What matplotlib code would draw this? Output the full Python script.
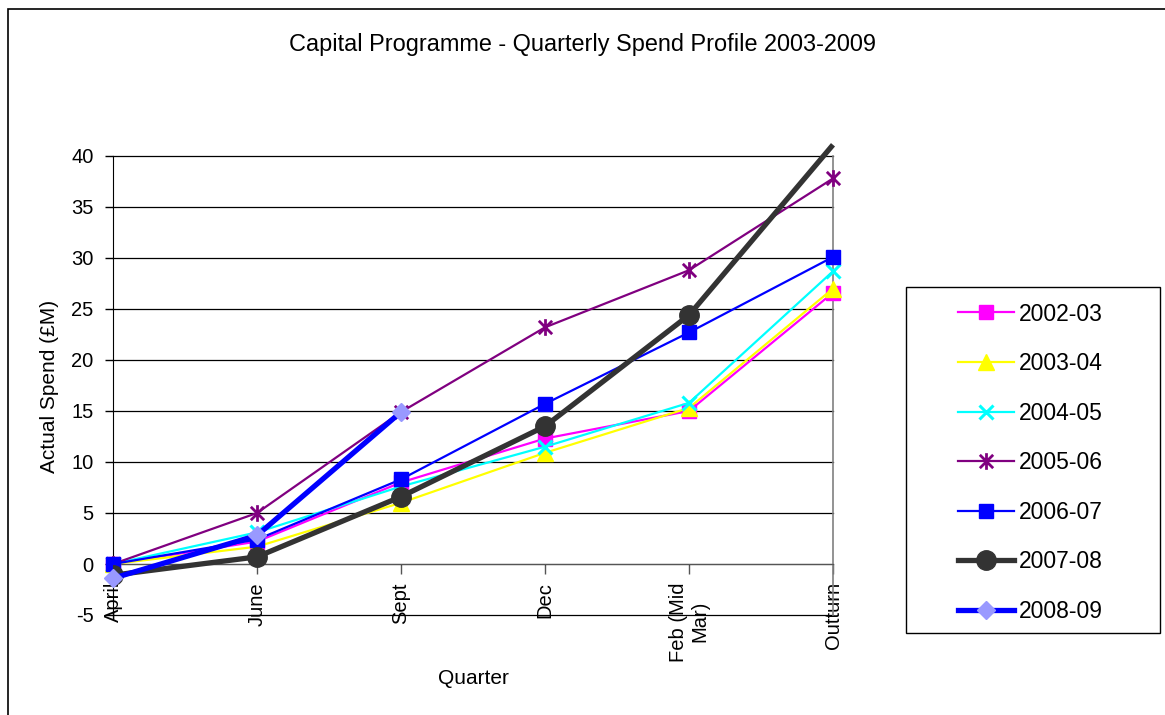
import matplotlib
matplotlib.use("Agg")
import matplotlib.pyplot as plt
from matplotlib.lines import Line2D
from matplotlib.patches import Rectangle
from matplotlib.path import Path

plt.rcParams["font.family"] = ["Liberation Sans", "DejaVu Sans"]

# ---- data -----------------------------------------------------------
quarters = ["April", "June", "Sept", "Dec", "Feb (Mid\nMar)", "Outturn"]
series_names = ["2002-03", "2003-04", "2004-05", "2005-06", "2006-07", "2007-08", "2008-09"]

spend_2002_03 = [0.0, 2.2, 8.0, 12.3, 15.0, 26.6]
spend_2003_04 = [0.0, 1.7, 6.0, 10.9, 15.3, 27.0]
spend_2004_05 = [0.0, 3.1, 7.6, 11.5, 15.8, 28.7]
spend_2005_06 = [0.0, 5.0, 14.9, 23.2, 28.8, 37.8]
spend_2006_07 = [0.0, 2.4, 8.3, 15.7, 22.7, 30.1]
spend_2007_08 = [-1.1, 0.7, 6.6, 13.5, 24.4, 41.1]
spend_2008_09 = [-1.4, 2.8, 14.9]

y_ticks = list(range(-5, 41, 5))

# ---- styles ---------------------------------------------------------
star = Path([(0, -1), (0, 1), (-0.8, -0.8), (0.8, 0.8), (-0.8, 0.8), (0.8, -0.8)],
            [Path.MOVETO, Path.LINETO] * 3)

styles = [
    dict(color="#FF00FF", lw=1.6, marker="s", ms=9.5, mfc="#FF00FF", mec="#FF00FF", mew=1),
    dict(color="#FFFF00", lw=1.6, marker="^", ms=11, mfc="#FFFF00", mec="#FFFF00", mew=1),
    dict(color="#00FFFF", lw=1.6, marker="x", ms=10, mfc="#00FFFF", mec="#00FFFF", mew=2.2),
    dict(color="#800080", lw=1.6, marker=star, ms=12, mfc="#800080", mec="#800080", mew=2.0),
    dict(color="#0000FF", lw=1.6, marker="s", ms=10, mfc="#0000FF", mec="#0000FF", mew=1),
    dict(color="#333333", lw=3.8, marker="o", ms=14, mfc="#333333", mec="#333333", mew=1),
    dict(color="#0000FF", lw=3.8, marker="D", ms=9.5, mfc="#9999FF", mec="#9999FF", mew=1),
]
all_series = [spend_2002_03, spend_2003_04, spend_2004_05, spend_2005_06,
              spend_2006_07, spend_2007_08, spend_2008_09]

W, H = 1165, 715
fig = plt.figure(figsize=(W / 100, H / 100), dpi=100)

# chart border
fig.patches.append(Rectangle((8 / W, -0.1), 1.2, 1 - 9 / H + 0.1, transform=fig.transFigure,
                             fill=False, edgecolor="black", lw=1.2))

ax = fig.add_axes([113 / W, 1 - 615 / H, 720 / W, 459 / H])
ax.set_xlim(0, 5)
ax.set_ylim(-5, 40)

for i, (vals, st) in enumerate(zip(all_series, styles)):
    xs = list(range(len(vals)))
    if max(vals) > 40:
        # line runs past the top of the value axis; markers stay inside
        ax.plot(xs, vals, color=st["color"], lw=st["lw"], clip_on=False,
                solid_capstyle="butt", zorder=3 + i)
        inside = [(x, v) for x, v in zip(xs, vals) if v <= 40]
        ax.plot([p[0] for p in inside], [p[1] for p in inside], ls="none",
                marker=st["marker"], ms=st["ms"], mfc=st["mfc"], mec=st["mec"],
                mew=st["mew"], zorder=3 + i)
    else:
        ax.plot(xs, vals, color=st["color"], lw=st["lw"], marker=st["marker"],
                ms=st["ms"], mfc=st["mfc"], mec=st["mec"], mew=st["mew"],
                clip_on=False, zorder=3 + i)

# axes appearance
ax.set_yticks(y_ticks)
ax.set_yticklabels([str(t) for t in y_ticks])
ax.yaxis.grid(True, color="black", lw=0.9)
for gl in ax.get_ygridlines():
    gl.set_clip_on(False)
ax.set_axisbelow(True)
ax.spines["top"].set_visible(False)
ax.spines["right"].set_color("#808080")
ax.spines["right"].set_linewidth(1.2)
ax.spines["left"].set_color("black")
ax.spines["bottom"].set_position(("data", 0))
ax.spines["bottom"].set_color("#555555")
ax.tick_params(axis="y", direction="out", length=6, width=1, pad=8, labelsize=14.5)
ax.set_xticks(range(len(quarters)))
ax.set_xticklabels(quarters, rotation=90, va="top", ha="center",
                   multialignment="center", fontsize=14.5)
ax.tick_params(axis="x", direction="out", length=7, width=1, pad=6, color="#555555")

fig.text(582.5 / W, 1 - 44 / H, "Capital Programme - Quarterly Spend Profile 2003-2009",
         ha="center", va="center", fontsize=16.9)
fig.text(50 / W, 1 - 386 / H, "Actual Spend (£M)", rotation=90,
         ha="center", va="center", fontsize=15)
fig.text(473 / W, 1 - 679 / H, "Quarter", ha="center", va="center", fontsize=15)

# legend
fig.patches.append(Rectangle((906 / W, 1 - 633 / H), 254 / W, 346 / H,
                             transform=fig.transFigure, fill=False,
                             edgecolor="black", lw=1.0))
handles = [Line2D([0], [0], color=st["color"], lw=st["lw"], marker=st["marker"],
                  ms=st["ms"], mfc=st["mfc"], mec=st["mec"], mew=st["mew"])
           for st in styles]
fig.legend(handles, series_names, loc="upper left",
           bbox_to_anchor=(958 / W, 1 - 302.5 / H), frameon=False,
           fontsize=16.5, handlelength=2.45, handletextpad=0.2,
           labelspacing=1.16, borderpad=0, borderaxespad=0)

fig.savefig("out.png", dpi=100)
